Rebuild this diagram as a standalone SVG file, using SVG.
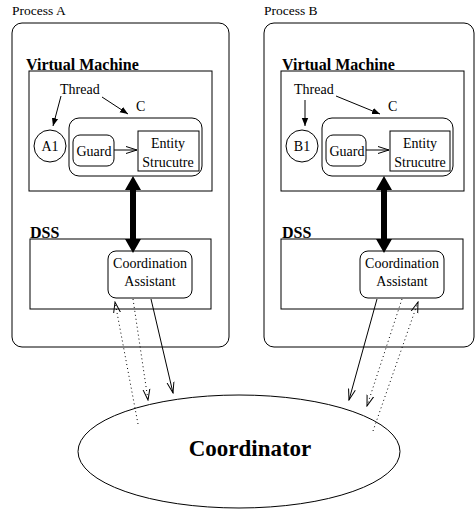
<svg xmlns="http://www.w3.org/2000/svg" width="475" height="510" viewBox="0 0 475 510" font-family="'Liberation Serif', Tinos, 'Times New Roman', 'DejaVu Serif', serif">
<style>
text{fill:#000}
.t{font-size:14px}
.p{font-size:13.5px}
.b{font-size:16px;font-weight:bold}
.big{font-size:23px;font-weight:bold}
.box{fill:none;stroke:#000;stroke-width:1}
.ln{fill:none;stroke:#000;stroke-width:1}
.dot{fill:none;stroke:#000;stroke-width:1;stroke-dasharray:1 3}
.thick{fill:#000;stroke:none}
</style>
<defs>
<marker id="fa" viewBox="0 0 10 10" refX="10" refY="5" markerWidth="8" markerHeight="8" markerUnits="userSpaceOnUse" orient="auto">
<path d="M0,1 L10,5 L0,9 Z" fill="#000"/>
</marker>
<marker id="oa" viewBox="0 0 12 10" refX="11" refY="5" markerWidth="12" markerHeight="10" markerUnits="userSpaceOnUse" orient="auto">
<path d="M0,1.5 L11,5 L0,8.5" fill="none" stroke="#000" stroke-width="1"/>
</marker>
</defs>

<g id="processA">
<text class="p" x="12" y="15">Process A</text>
<rect class="box" x="12" y="23" width="217" height="324" rx="10"/>
</g>
<g id="vmA">
<text class="b" x="26" y="70">Virtual Machine</text>
<rect class="box" x="29" y="71" width="183" height="120"/>
</g>
<g id="threadA"><text class="t" x="60" y="94">Thread</text></g>
<g id="cA">
<text class="t" x="136" y="111">C</text>
<rect class="box" x="69" y="118" width="133" height="58" rx="10"/>
</g>
<g id="a1"><circle class="box" cx="50" cy="146" r="16"/><text class="t" x="50" y="151" text-anchor="middle">A1</text></g>
<g id="guardA"><rect class="box" x="73" y="135" width="41" height="31" rx="7"/><text class="t" x="94" y="156" text-anchor="middle">Guard</text></g>
<g id="entityA"><rect class="box" x="138" y="131" width="61" height="40"/><text class="t" x="168" y="148" text-anchor="middle">Entity</text><text class="t" x="168" y="167" text-anchor="middle">Strucutre</text></g>
<g id="dssA">
<text class="b" x="30" y="238">DSS</text>
<rect class="box" x="30" y="239" width="181" height="70"/>
</g>
<g id="caA"><rect class="box" x="108" y="251" width="84" height="47" rx="8"/><text class="t" x="150" y="268" text-anchor="middle">Coordination</text><text class="t" x="150" y="286" text-anchor="middle">Assistant</text></g>

<g id="processB">
<text class="p" x="264" y="15">Process B</text>
<rect class="box" x="264" y="23" width="210" height="324" rx="10"/>
</g>
<g id="vmB">
<text class="b" x="282" y="70">Virtual Machine</text>
<rect class="box" x="281" y="71" width="183" height="120"/>
</g>
<g id="threadB"><text class="t" x="294" y="94">Thread</text></g>
<g id="cB">
<text class="t" x="388" y="111">C</text>
<rect class="box" x="322" y="118" width="131" height="58" rx="10"/>
</g>
<g id="b1"><circle class="box" cx="302" cy="146" r="16"/><text class="t" x="302" y="151" text-anchor="middle">B1</text></g>
<g id="guardB"><rect class="box" x="326" y="135" width="40" height="31" rx="7"/><text class="t" x="347" y="156" text-anchor="middle">Guard</text></g>
<g id="entityB"><rect class="box" x="390" y="131" width="60" height="40"/><text class="t" x="420" y="148" text-anchor="middle">Entity</text><text class="t" x="420" y="167" text-anchor="middle">Strucutre</text></g>
<g id="dssB">
<text class="b" x="282" y="238">DSS</text>
<rect class="box" x="281" y="239" width="182" height="70"/>
</g>
<g id="caB"><rect class="box" x="360" y="251" width="84" height="47" rx="8"/><text class="t" x="402" y="268" text-anchor="middle">Coordination</text><text class="t" x="402" y="286" text-anchor="middle">Assistant</text></g>

<g id="coordinator">
<ellipse class="box" cx="239" cy="451.5" rx="161" ry="56.5"/>
<text class="big" x="250" y="456" text-anchor="middle">Coordinator</text>
</g>

<g id="connectors">
<line class="ln" x1="61" y1="96" x2="53" y2="126" marker-end="url(#fa)"/>
<line class="ln" x1="102" y1="97" x2="128" y2="114" marker-end="url(#fa)"/>
<line class="ln" x1="114" y1="150" x2="137" y2="150" marker-end="url(#oa)"/>
<path class="thick" d="M133,176 L141,190 L136,190 L136,239 L141,239 L133,253 L125,239 L130,239 L130,190 L125,190 Z"/>
<line class="ln" x1="151" y1="299" x2="173" y2="393" marker-end="url(#oa)"/>
<line class="dot" x1="133" y1="299" x2="148" y2="400" marker-end="url(#oa)"/>
<line class="dot" x1="138" y1="424" x2="115" y2="302" marker-end="url(#oa)"/>

<line class="ln" x1="305" y1="100" x2="305" y2="126" marker-end="url(#fa)"/>
<line class="ln" x1="336" y1="96" x2="380" y2="114" marker-end="url(#fa)"/>
<line class="ln" x1="366" y1="150" x2="389" y2="150" marker-end="url(#oa)"/>
<path class="thick" d="M384,176 L392,190 L387,190 L387,239 L392,239 L384,253 L376,239 L381,239 L381,190 L376,190 Z"/>
<line class="ln" x1="377" y1="299" x2="349" y2="400" marker-end="url(#oa)"/>
<line class="dot" x1="402" y1="299" x2="367" y2="406" marker-end="url(#oa)"/>
<line class="dot" x1="373" y1="431" x2="418" y2="302" marker-end="url(#oa)"/>
</g>
</svg>
